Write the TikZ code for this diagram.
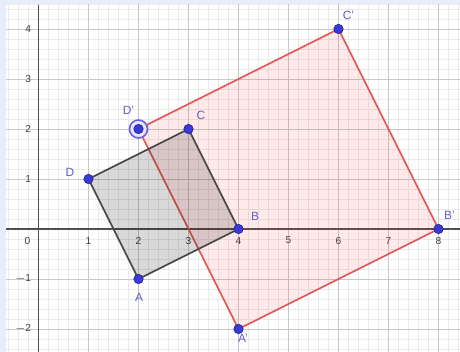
\documentclass[tikz,border=0pt]{standalone}
\usepackage{fontspec}
\setmainfont{Liberation Sans}
\definecolor{frame}{HTML}{E8EEF9}
\definecolor{minorgrid}{HTML}{EAEAEA}
\definecolor{majorgrid}{HTML}{C8C8C8}
\definecolor{axis}{HTML}{505050}
\definecolor{ticktext}{HTML}{404040}
\definecolor{greyedge}{HTML}{474747}
\definecolor{rededge}{HTML}{DE5A5A}
\definecolor{ptfill}{HTML}{3A3AD6}
\definecolor{ptedge}{HTML}{1E1E8A}
\definecolor{lbl}{HTML}{6060C8}
\tikzset{
  tick/.style={font=\fontsize{5.8}{6}\selectfont, text=ticktext, inner sep=0pt},
  ptlabel/.style={font=\fontsize{6.8}{7}\selectfont, text=lbl, inner sep=0pt},
  pt/.style={circle, fill=ptfill, draw=ptedge, line width=0.3pt, minimum size=0.19cm, inner sep=0pt},
  greysq/.style={draw=greyedge, line width=1pt, fill=black, fill opacity=0.15, line join=round},
  redsq/.style={draw=rededge, line width=1pt, fill=red!80!white, fill opacity=0.1, line join=round},
}
\begin{document}
\begin{tikzpicture}
\useasboundingbox (-0.77,-2.46) rectangle (8.43,4.58);
\fill[frame] (-0.77,-2.46) rectangle (8.43,4.58);
\fill[white] (-0.65,-2.46) rectangle (8.43,4.48);
\begin{scope}
\clip (-0.65,-2.46) rectangle (8.43,4.48);
\draw[minorgrid, line width=0.3pt, step=0.2] (-1,-3) grid (9,5);
\draw[majorgrid, line width=0.45pt, step=1] (-1,-3) grid (9,5);
\end{scope}
\draw[axis, line width=0.65pt] (-0.65,0) -- (8.43,0);
\draw[axis, line width=0.65pt] (0,-2.46) -- (0,4.48);
% tick labels
\node[tick] (t0) at (-0.22,-0.23) {0};
\foreach \i in {1,...,8} {\node[tick] (tx\i) at (\i,-0.23) {\i};}
\foreach \j in {1,...,4} {\node[tick, anchor=east] (ty\j) at (-0.14,\j) {\j};}
\node[tick, anchor=east] (tym1) at (-0.14,-1) {$-$1};
\node[tick, anchor=east] (tym2) at (-0.14,-2) {$-$2};
% points
\coordinate (A) at (2,-1);
\coordinate (B) at (4,0);
\coordinate (C) at (3,2);
\coordinate (D) at (1,1);
\coordinate (A') at (4,-2);
\coordinate (B') at (8,0);
\coordinate (C') at (6,4);
\coordinate (D') at (2,2);
\draw[redsq] (A') -- (B') -- (C') -- (D') -- cycle;
\draw[greysq] (A) -- (B) -- (C) -- (D) -- cycle;
% highlight ring on D'
\draw[ptfill!80!white, line width=0.9pt, fill=ptfill!12] (D') circle (0.18);
\foreach \p in {A,B,C,D,A',B',C',D'} {\node[pt] (n\p) at (\p) {};}
% labels
\node[ptlabel] (lA) at (2.01,-1.36) {A};
\node[ptlabel] (lB) at (4.33,0.25) {B};
\node[ptlabel] (lC) at (3.25,2.27) {C};
\node[ptlabel] (lD) at (0.63,1.14) {D};
\node[ptlabel] (lA') at (4.09,-2.19) {A'};
\node[ptlabel] (lB') at (8.22,0.27) {B'};
\node[ptlabel] (lC') at (6.2,4.27) {C'};
\node[ptlabel] (lD') at (1.8,2.38) {D'};
\end{tikzpicture}
\end{document}
